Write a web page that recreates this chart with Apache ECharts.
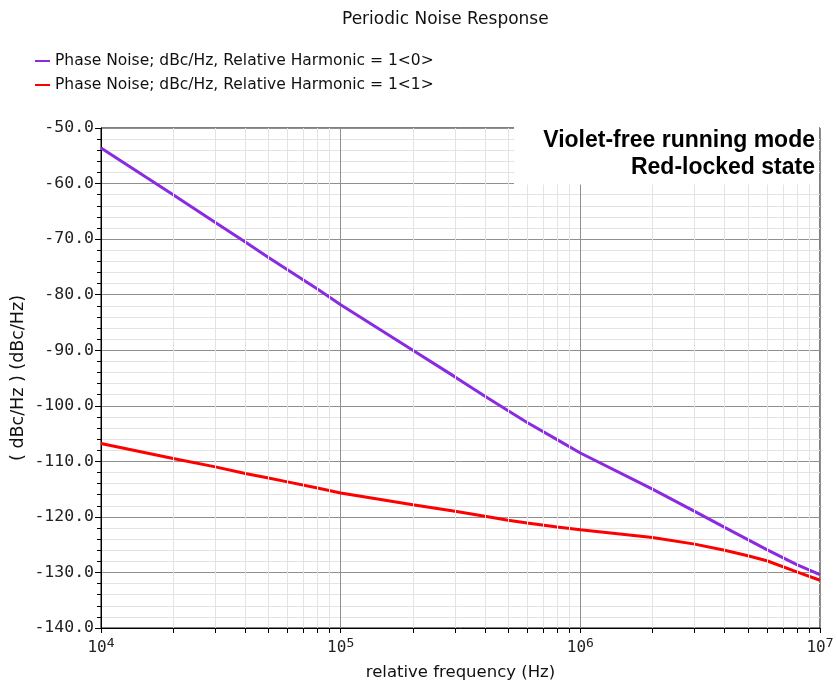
<!DOCTYPE html>
<html><head><meta charset="utf-8">
<script src="https://cdn.jsdelivr.net/npm/echarts@6/dist/echarts.min.js"></script>
<style>html,body{margin:0;padding:0;background:#fff}#c{width:837px;height:684px}</style>
</head><body><div id="c"></div>
<script>
const freqs = [1e4, 2e4, 3e4, 4e4, 5e4, 6e4, 8e4, 1e5, 2e5, 3e5, 4e5, 5e5, 6e5, 8e5, 1e6, 2e6, 3e6, 4e6, 5e6, 6e6, 8e6, 1e7];
const violetPN = [-53.6, -62.0, -67.0, -70.5, -73.3, -75.5, -79.0, -81.8, -90.0, -94.8, -98.3, -100.9, -103.0, -106.1, -108.5, -115.0, -119.0, -121.9, -124.1, -125.9, -128.6, -130.4];
const redPN = [-106.8, -109.5, -111.0, -112.2, -113.0, -113.7, -114.8, -115.7, -117.8, -119.0, -119.9, -120.6, -121.1, -121.8, -122.3, -123.7, -124.9, -126.0, -127.0, -127.9, -129.9, -131.4];
const minorFreqs = [2e4,3e4,4e4,5e4,6e4,7e4,8e4,9e4,2e5,3e5,4e5,5e5,6e5,7e5,8e5,9e5,2e6,3e6,4e6,5e6,6e6,7e6,8e6,9e6];
const allTickFreqs = [1e4].concat(minorFreqs.slice(0,8), [1e5], minorFreqs.slice(8,16), [1e6], minorFreqs.slice(16), [1e7]);
const legendNames = ['Phase Noise; dBc/Hz, Relative Harmonic = 1<0>', 'Phase Noise; dBc/Hz, Relative Harmonic = 1<1>'];
const titleText = 'Periodic Noise Response';
const annotLines = ['Violet-free running mode', 'Red-locked state'];

const chart = echarts.init(document.getElementById('c'));
const pair = (ys) => freqs.map((f, i) => [f, ys[i]]);
chart.setOption({
  animation: false,
  backgroundColor: '#fff',
  title: {
    text: titleText, left: 337, top: 6,
    textStyle: {fontFamily: 'DejaVu Sans', fontSize: 17, fontWeight: 'normal', color: '#111'}
  },
  legend: {
    data: legendNames, orient: 'vertical', left: 30, top: 44,
    icon: 'rect', itemWidth: 15, itemHeight: 2, itemGap: 0,
    textStyle: {fontFamily: 'DejaVu Sans', fontSize: 15.5, color: '#111', lineHeight: 24},
    selectedMode: false
  },
  grid: {left: 101, right: 17, top: 128, bottom: 56, show: true, borderColor: '#000', borderWidth: 1,
    containLabel: false, outerBoundsMode: 'none'},
  xAxis: {
    type: 'log', logBase: 10, min: 1e4, max: 1e7,
    name: 'relative frequency (Hz)', nameLocation: 'middle', nameGap: 36, nameMoveOverlap: false,
    nameTextStyle: {fontFamily: 'DejaVu Sans', fontSize: 16.5, color: '#111'},
    axisLine: {lineStyle: {color: '#000', width: 1}},
    axisTick: {show: true, length: 5, lineStyle: {color: '#000'}, customValues: allTickFreqs},
    axisLabel: {
      margin: 9,
      formatter: (v) => '{b|10}{s|' + Math.round(Math.log10(v)) + '}',
      rich: {
        b: {fontFamily: 'DejaVu Sans Mono', fontSize: 16, color: '#222', lineHeight: 19, verticalAlign: 'bottom'},
        s: {fontFamily: 'DejaVu Sans Mono', fontSize: 13, color: '#222', lineHeight: 19, verticalAlign: 'top'}
      }
    },
    splitLine: {show: true, lineStyle: {color: '#8f8f8f', width: 1}}
  },
  yAxis: {
    type: 'value', min: -140, max: -50, interval: 10,
    name: '( dBc/Hz ) (dBc/Hz)', nameLocation: 'middle', nameGap: 74, nameRotate: 90, nameMoveOverlap: false,
    nameTextStyle: {fontFamily: 'DejaVu Sans', fontSize: 17.5, color: '#111'},
    axisLine: {show: true, lineStyle: {color: '#000', width: 1}},
    axisTick: {show: true, length: 6, lineStyle: {color: '#000'}},
    minorTick: {show: true, splitNumber: 5, length: 4, lineStyle: {color: '#000'}},
    axisLabel: {
      margin: 7, formatter: (v) => v.toFixed(1),
      fontFamily: 'DejaVu Sans Mono', fontSize: 16.5, color: '#222'
    },
    splitLine: {show: true, lineStyle: {color: '#8f8f8f', width: 1}},
    minorSplitLine: {show: true, lineStyle: {color: '#e3e3e3', width: 1}}
  },
  graphic: [
    {type: 'rect', shape: {x: 514, y: 126.5, width: 305, height: 58}, style: {fill: '#fff'}, z: 10, silent: true},
    {type: 'text', x: 815, y: 141, z: 11, silent: true,
      style: {text: annotLines[0], textAlign: 'right', textVerticalAlign: 'middle', fontFamily: 'Liberation Sans', fontWeight: 'bold', fontSize: 23, fill: '#000'}},
    {type: 'text', x: 815, y: 168, z: 11, silent: true,
      style: {text: annotLines[1], textAlign: 'right', textVerticalAlign: 'middle', fontFamily: 'Liberation Sans', fontWeight: 'bold', fontSize: 23, fill: '#000'}}
  ],
  series: [
    {
      name: 'minorGrid', type: 'line', data: [], z: 1, silent: true,
      markLine: {
        silent: true, symbol: ['none', 'none'], label: {show: false},
        lineStyle: {color: '#e3e3e3', width: 1, type: 'solid'},
        data: minorFreqs.map(f => ({xAxis: f}))
      }
    },
    {
      name: legendNames[0], type: 'line', data: pair(violetPN), showSymbol: false, symbol: 'none',
      lineStyle: {color: '#8a2be2', width: 3}, itemStyle: {color: '#8a2be2'}, z: 3
    },
    {
      name: legendNames[1], type: 'line', data: pair(redPN), showSymbol: false, symbol: 'none',
      lineStyle: {color: '#ff0000', width: 3}, itemStyle: {color: '#ff0000'}, z: 3
    }
  ]
});
</script></body></html>
